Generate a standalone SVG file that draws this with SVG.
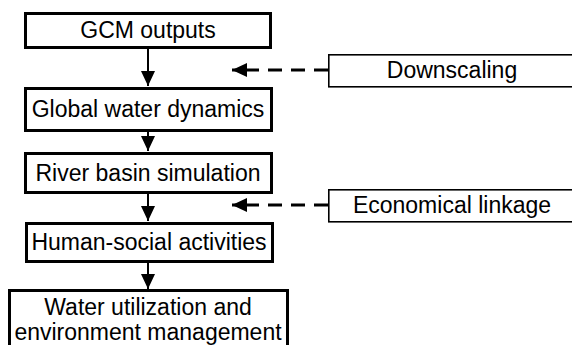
<svg xmlns="http://www.w3.org/2000/svg" width="572" height="345" viewBox="0 0 572 345">
<style>
.main{fill:#fff;stroke:#000;stroke-width:3}
.side{fill:#fff;stroke:#000;stroke-width:1.6}
text{font-family:"Liberation Sans",Arial,sans-serif;font-size:23px;fill:#000;text-anchor:middle}
.solid{stroke:#000;stroke-width:2;fill:none}
.dash{stroke:#000;stroke-width:3;fill:none;stroke-dasharray:14 9}
</style>
<defs>
<marker id="ah" markerUnits="userSpaceOnUse" markerWidth="16" markerHeight="16" viewBox="0 0 16 16" refX="15" refY="8" orient="auto">
<path d="M0,1 L15,8 L0,15 Z" fill="#000"/>
</marker>
</defs>
<rect width="572" height="345" fill="#fff"/>
<g id="connectors">
<line class="solid" x1="148" y1="48" x2="148" y2="86" marker-end="url(#ah)"/>
<line class="solid" x1="148" y1="131" x2="148" y2="151" marker-end="url(#ah)"/>
<line class="solid" x1="148" y1="193" x2="148" y2="221" marker-end="url(#ah)"/>
<line class="solid" x1="148" y1="262" x2="148" y2="289" marker-end="url(#ah)"/>
<line class="dash" x1="328" y1="70" x2="232" y2="70" marker-end="url(#ah)"/>
<line class="dash" x1="328" y1="205" x2="232" y2="205" marker-end="url(#ah)"/>
</g>
<g id="gcm">
<rect class="main" x="25.5" y="13.5" width="245" height="34"/>
<text x="148" y="38">GCM outputs</text>
</g>
<g id="global">
<rect class="main" x="25.5" y="88.5" width="246" height="42"/>
<text x="148" y="117">Global water dynamics</text>
</g>
<g id="river">
<rect class="main" x="25.5" y="153.5" width="246" height="39"/>
<text x="148" y="181">River basin simulation</text>
</g>
<g id="human">
<rect class="main" x="26.5" y="223.5" width="246" height="38"/>
<text x="149" y="250">Human-social activities</text>
</g>
<g id="water">
<rect class="main" x="9.5" y="290.5" width="278" height="60"/>
<text x="148" y="315">Water utilization and</text>
<text x="148" y="340">environment management</text>
</g>
<g id="downscaling">
<rect class="side" x="328.8" y="54.8" width="260" height="32"/>
<text x="452" y="78">Downscaling</text>
</g>
<g id="economical">
<rect class="side" x="328.8" y="189.8" width="260" height="32"/>
<text x="452" y="213">Economical linkage</text>
</g>
</svg>
